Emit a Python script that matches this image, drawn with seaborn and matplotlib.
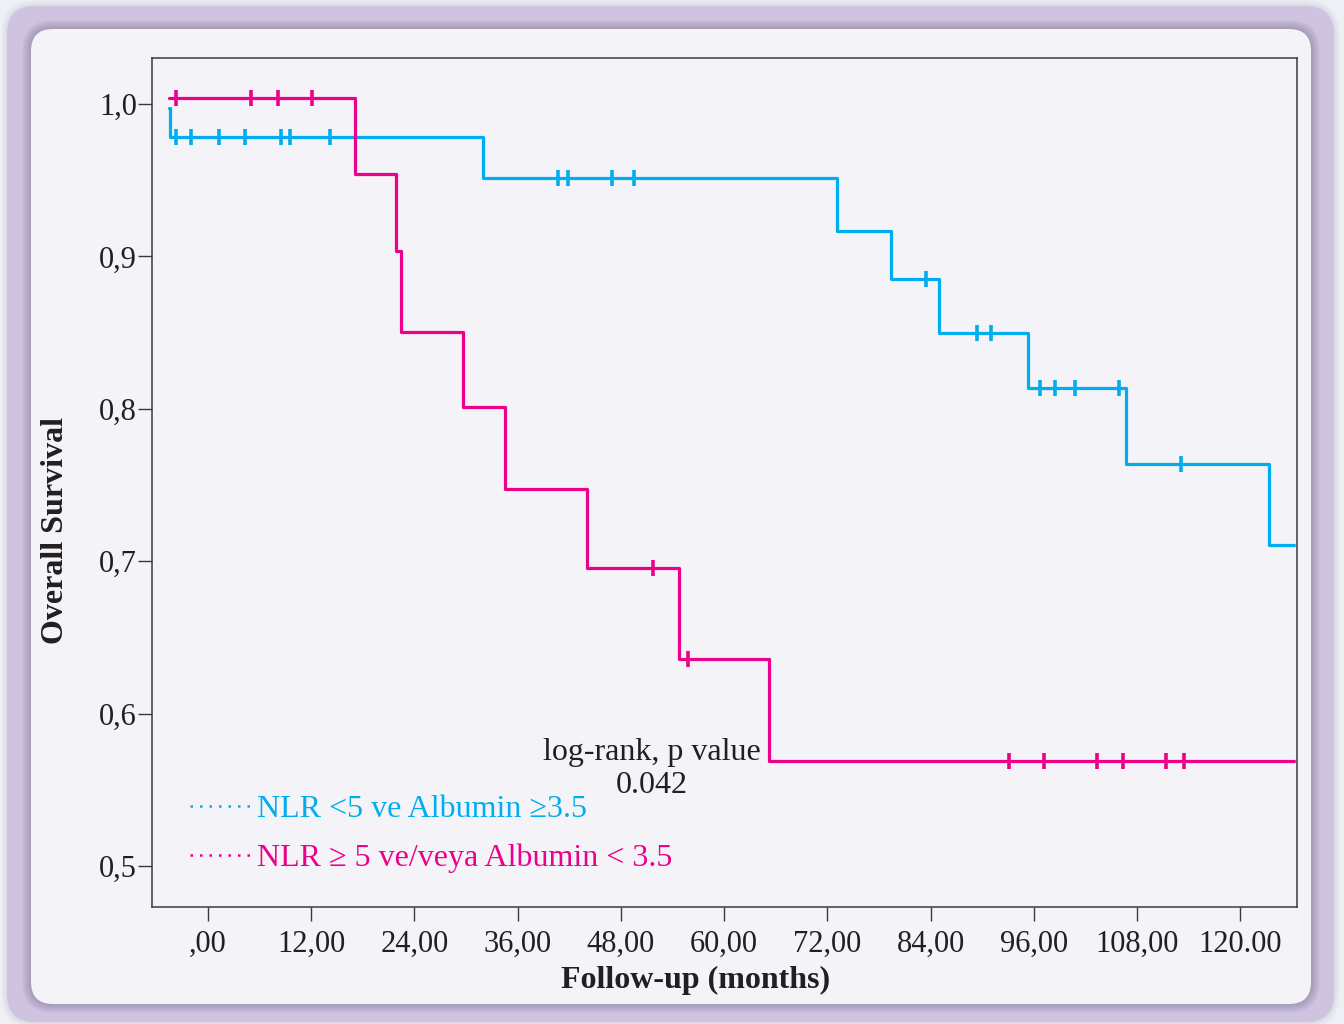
import numpy as np
import pandas as pd
import matplotlib
matplotlib.use("Agg")
import matplotlib.pyplot as plt
from matplotlib.patches import FancyBboxPatch
from matplotlib.lines import Line2D
import seaborn as sns

# Kaplan-Meier steps: time (months) and survival from that time on
low_risk_times = [-4.53, -4.45, 31.98, 73.1, 79.4, 85.0, 95.35, 106.74, 123.4, 126.3]
low_risk_surv = [0.9974, 0.9783, 0.9514, 0.9167, 0.8852, 0.8497, 0.8136, 0.7638, 0.7106, 0.7106]
low_risk_censored = [-3.72, -1.98, 1.28, 4.3, 8.49, 9.53, 14.19, 40.7, 41.86, 46.98,
                     49.53, 83.5, 89.4, 91.05, 96.7, 98.5, 100.8, 105.9, 113.1]

high_risk_times = [-4.53, 17.09, 21.86, 22.44, 29.65, 34.53, 44.07, 54.77, 65.23, 126.2]
high_risk_surv = [1.0039, 0.954, 0.9035, 0.8504, 0.8012, 0.7474, 0.6955, 0.6358, 0.5689, 0.5689]
high_risk_censored = [-3.72, 5.0, 8.14, 12.09, 51.74, 55.81, 93.14, 97.2, 103.4, 106.4, 111.4, 113.5]

group_labels = ["NLR <5 ve Albumin \u22653.5", "NLR \u2265 5 ve/veya Albumin < 3.5"]
group_colors = ["#00aeef", "#ec008c"]

x_ticks = [0, 12, 24, 36, 48, 60, 72, 84, 96, 108, 120]
x_tick_labels = [",00", "12,00", "24,00", "36,00", "48,00", "60,00",
                 "72,00", "84,00", "96,00", "108,00", "120.00"]
y_ticks = [0.5, 0.6, 0.7, 0.8, 0.9, 1.0]
y_tick_labels = ["0,5", "0,6", "0,7", "0,8", "0,9", "1,0"]
p_value_text = "0.042"

TEXT = "#231f20"
PANEL = "#f4f3f8"
FRAME = "#cfc3df"
PAGE = "#eef0f6"


def survival_at(times, surv, t):
    idx = np.searchsorted(times, t, side="right") - 1
    return surv[max(idx, 0)]


steps = pd.DataFrame({
    "time": low_risk_times + high_risk_times,
    "survival": low_risk_surv + high_risk_surv,
    "group": [group_labels[0]] * len(low_risk_times) + [group_labels[1]] * len(high_risk_times),
})
censors = pd.DataFrame({
    "time": low_risk_censored + high_risk_censored,
    "survival": [survival_at(low_risk_times, low_risk_surv, t) for t in low_risk_censored]
    + [survival_at(high_risk_times, high_risk_surv, t) for t in high_risk_censored],
    "group": [group_labels[0]] * len(low_risk_censored) + [group_labels[1]] * len(high_risk_censored),
})
palette = dict(zip(group_labels, group_colors))

sns.set_theme(style="ticks")
plt.rcParams["font.family"] = ["Liberation Serif", "DejaVu Serif"]
plt.rcParams["text.color"] = TEXT

fig = plt.figure(figsize=(13.44, 10.24), dpi=100)
fig.patch.set_facecolor(PAGE)

# decorative card behind the chart (pixel coordinates, y downward)
bg = fig.add_axes([0, 0, 1, 1], zorder=-10)
bg.set_xlim(0, 1344)
bg.set_ylim(1024, 0)
bg.axis("off")


def card(x0, y0, x1, y1, r, **kw):
    return FancyBboxPatch((x0, y0), x1 - x0, y1 - y0,
                          boxstyle=f"round,pad=0,rounding_size={r}", **kw)


for i in range(1, 7):
    bg.add_patch(card(7 - i, 6 - i, 1334 + i, 1022 + i, 28 + i,
                      facecolor="#8a8fa8", edgecolor="none", alpha=0.03))
bg.add_patch(card(7, 6, 1334, 1022, 28, facecolor=FRAME, edgecolor="none"))
for i in range(1, 10):
    bg.add_patch(card(31 - i, 29 - i, 1311 + i, 1004 + i, 22 + i,
                      facecolor="#4f4862", edgecolor="none", alpha=0.035))
bg.add_patch(card(31, 29, 1311, 1004, 22, facecolor=PANEL, edgecolor="none"))

ax = fig.add_axes([152 / 1344, 1 - 907 / 1024, (1297 - 152) / 1344, (907 - 58) / 1024])
ax.set_facecolor(PANEL)

sns.lineplot(data=steps, x="time", y="survival", hue="group", palette=palette,
             estimator=None, sort=False, drawstyle="steps-post", linewidth=2.3,
             legend=False, ax=ax)
sns.scatterplot(data=censors, x="time", y="survival", hue="group", palette=palette,
                marker="|", s=135, linewidth=2.6, legend=False, ax=ax, zorder=3)

ax.set_xlim(-6.51, 126.6)
ax.set_ylim(0.4731, 1.0302)
ax.set_xticks(x_ticks)
ax.set_xticklabels(x_tick_labels)
ax.set_yticks(y_ticks)
ax.set_yticklabels(y_tick_labels)
ax.tick_params(axis="both", direction="out", length=10, width=1.0, color="#3a3a3a",
               labelsize=22, labelcolor=TEXT)
ax.tick_params(axis="x", pad=6.5)
ax.tick_params(axis="y", pad=0.8)
for s in ax.spines.values():
    s.set_visible(True)
    s.set_color("#3a3a3a")
    s.set_linewidth(1.1)

ax.set_xlabel("Follow-up (months)", fontsize=23, fontweight="bold", color=TEXT)
ax.set_ylabel("Overall Survival", fontsize=23, fontweight="bold", color=TEXT)
ax.xaxis.set_label_coords(0.475, -0.087)
ax.xaxis.label.set_va("center")
ax.yaxis.set_label_coords(-0.0847, 0.4435)
ax.yaxis.label.set_va("center")

ax.text(0.4367, 0.1825, "log-rank, p value", transform=ax.transAxes,
        ha="center", va="center", fontsize=23, color=TEXT)
ax.text(0.4367, 0.143, p_value_text, transform=ax.transAxes,
        ha="center", va="center", fontsize=23, color=TEXT)

handles = [Line2D([], [], color=c, linestyle=(0, (1, 2.8)), linewidth=1.8)
           for c in group_colors]
ax.legend(handles, group_labels, loc="upper left", bbox_to_anchor=(0.0332, 0.1326),
          frameon=False, fontsize=23, handlelength=2.04, handletextpad=0.06,
          labelspacing=0.61, borderpad=0, borderaxespad=0, labelcolor=group_colors)

fig.savefig("out.png", dpi=100, facecolor=fig.get_facecolor())
